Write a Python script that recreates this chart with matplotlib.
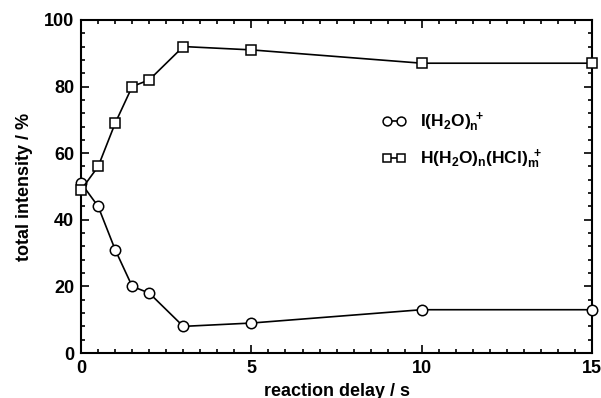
import matplotlib
matplotlib.use("Agg")
import matplotlib.pyplot as plt
from matplotlib.ticker import MultipleLocator

plt.rcParams['font.family'] = ['Liberation Sans', 'DejaVu Sans']
plt.rcParams['font.weight'] = 'bold'
plt.rcParams['mathtext.fontset'] = 'custom'
plt.rcParams['mathtext.rm'] = 'Liberation Sans:bold'
plt.rcParams['mathtext.bf'] = 'Liberation Sans:bold'
plt.rcParams['mathtext.it'] = 'Liberation Sans:bold'

delay = [0, 0.5, 1, 1.5, 2, 3, 5, 10, 15]
i_h2o = [51, 44, 31, 20, 18, 8, 9, 13, 13]
h_h2o_hcl = [49, 56, 69, 80, 82, 92, 91, 87, 87]
labels = [r'$\mathbf{I(H_2O)_n^{\ +}}$', r'$\mathbf{H(H_2O)_n(HCl)_m^{\ +}}$']

fig = plt.figure(figsize=(6.01, 3.98), dpi=100)
ax = fig.add_axes([0.135, 0.113, 0.85, 0.837])

ax.plot(delay, i_h2o, '-o', color='black', mfc='white', mec='black', ms=7.5, mew=1.1, lw=1.2,
        label=labels[0], clip_on=False, zorder=3)
ax.plot(delay, h_h2o_hcl, '-s', color='black', mfc='white', mec='black', ms=6.5, mew=1.1, lw=1.2,
        label=labels[1], clip_on=False, zorder=3)

ax.set_xlim(0, 15)
ax.set_ylim(0, 100)
ax.xaxis.set_major_locator(MultipleLocator(5))
ax.xaxis.set_minor_locator(MultipleLocator(0.5))
ax.yaxis.set_major_locator(MultipleLocator(20))
ax.yaxis.set_minor_locator(MultipleLocator(4))
ax.tick_params(which='both', direction='in', top=True, right=True, width=1.2)
ax.tick_params(which='major', length=6, labelsize=13, pad=5)
ax.tick_params(which='minor', length=3)
for lab in ax.get_xticklabels() + ax.get_yticklabels():
    lab.set_fontweight('bold')
for s in ax.spines.values():
    s.set_linewidth(1.5)

ax.set_xlabel('reaction delay / s', fontsize=13, fontweight='bold', labelpad=4)
ax.set_ylabel('total intensity / %', fontsize=13, fontweight='bold', labelpad=8)

leg = ax.legend(loc='upper left', bbox_to_anchor=(0.558, 0.775), frameon=False, numpoints=2,
                handlelength=1.4, handletextpad=0.8, fontsize=12.5, labelspacing=0.75,
                markerscale=0.85)

fig.savefig('out.png', dpi=100)
